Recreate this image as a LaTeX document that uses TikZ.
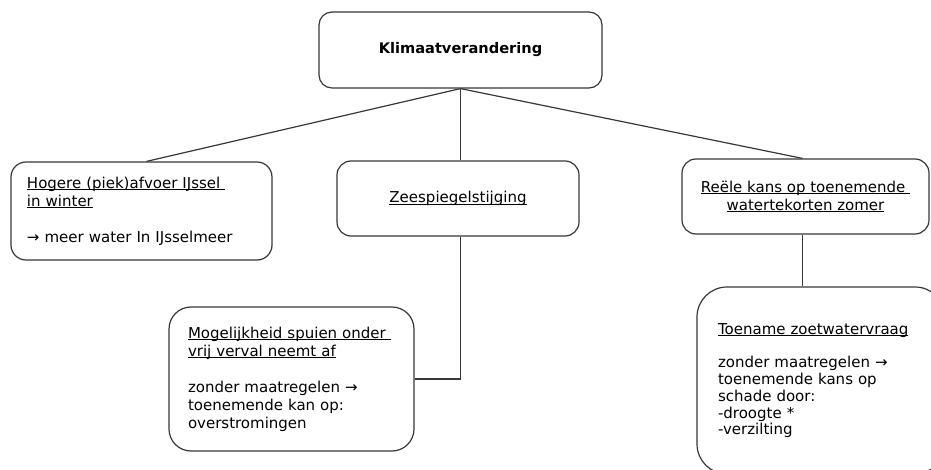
\documentclass[tikz,border=0pt]{standalone}
\usepackage{fontspec}
\setmainfont{DejaVu Sans}
\newcommand{\ulx}[1]{\leavevmode{\setbox0\hbox{#1}\rlap{\rule[-2.2pt]{\wd0}{0.9pt}}\box0}}
\begin{document}
\begin{tikzpicture}[x=1pt,y=-1pt,
  box/.style={draw=black!78, line width=1.2pt, fill=white, rounded corners=#1, inner sep=0pt},
  box/.default=12pt,
  txt/.style={font=\fontsize{15}{18}\selectfont},
  conn/.style={draw=black!78, line width=1.2pt}]
\path[use as bounding box, fill=white] (0,0) rectangle (931,470);
\clip (0,0) rectangle (931,470);

\node[box=13pt, minimum width=283pt, minimum height=76pt, font=\bfseries\fontsize{14.6}{17}\selectfont]
  (top) at (460.5,50) {Klimaatverandering};

\node[box=15pt, txt, minimum height=98pt, text width=229pt, inner xsep=16pt, align=left]
  (left) at (141.5,211) {\ulx{Hogere (piek)afvoer IJssel\ }\\ \ulx{in winter}\\[18pt] → meer water In IJsselmeer};

\node[box=14pt, txt, minimum width=242pt, minimum height=75pt]
  (mid) at (458,198.5) {\ulx{Zeespiegelstijging}};

\node[box=14pt, txt, minimum width=247pt, minimum height=75pt, align=center]
  (right) at (805.5,196.5) {\ulx{Reële kans op toenemende\ }\\ \ulx{watertekorten zomer}};

\node[box=22pt, txt, minimum height=144pt, text width=207pt, inner xsep=19pt, align=left]
  (bl) at (291.5,379) {\ulx{Mogelijkheid spuien onder\ }\\ \ulx{vrij verval neemt af}\\[18pt]
  zonder maatregelen →\\ toenemende kan op:\\ overstromingen};

\node[box=30pt, minimum height=187pt, text width=206pt, inner xsep=21pt, align=left,
  font=\fontsize{15}{16.8}\selectfont]
  (br) at (821,380.5) {\ulx{Toename zoetwatervraag}\\[16.8pt]
  zonder maatregelen →\\ toenemende kans op\\ schade door:\\ -droogte *\\ -verzilting};

\draw[conn] (top.south) -- ([xshift=5pt]left.north);
\draw[conn] (top.south) -- (top.south |- mid.north);
\draw[conn] (top.south) -- ([xshift=-3pt]right.north);
\draw[conn] (top.south |- mid.south) |- (bl.east);
\draw[conn] ([xshift=-3pt]right.south) -- ([xshift=-3pt]right.south |- br.north);
\end{tikzpicture}
\end{document}
